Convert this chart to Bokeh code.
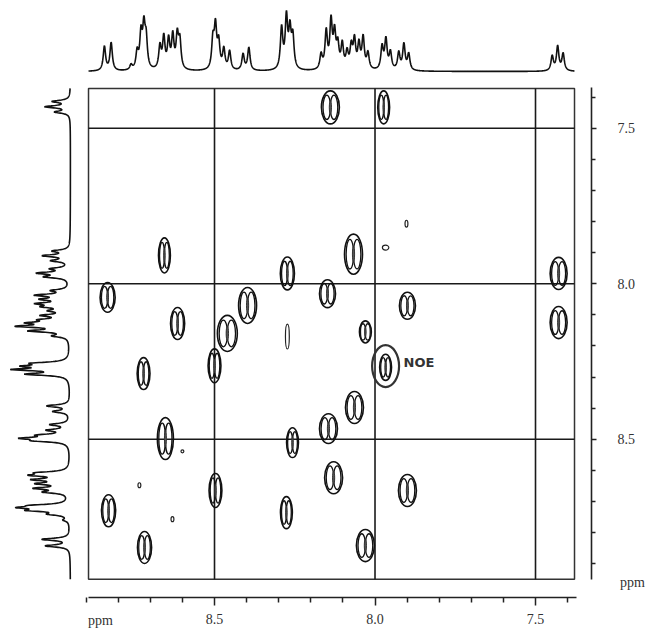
import numpy as np
from bokeh.plotting import figure
from bokeh.models import Range1d, LinearAxis, FixedTicker, Label, PrintfTickFormatter
from bokeh.embed import file_html
from bokeh.resources import INLINE

# ---------------- data (ppm) ----------------
# 1D 1H spectrum: peak positions (ppm) and relative intensities
peak_ppm = [8.843, 8.822, 8.760, 8.741, 8.729, 8.720, 8.713, 8.670, 8.658, 8.643,
            8.630, 8.616, 8.608, 8.505, 8.497, 8.487, 8.471, 8.453, 8.411, 8.393,
            8.291, 8.276, 8.265, 8.256, 8.168, 8.152, 8.137, 8.126, 8.116, 8.102,
            8.087, 8.074, 8.064, 8.050, 8.037, 8.022, 7.978, 7.966, 7.952, 7.926,
            7.910, 7.895, 7.448, 7.431, 7.414]
peak_int = [0.48, 0.55, 0.10, 0.34, 0.67, 0.78, 0.56, 0.45, 0.62, 0.56,
            0.64, 0.64, 0.54, 0.56, 0.81, 0.51, 0.40, 0.37, 0.32, 0.45,
            0.81, 1.00, 0.73, 0.62, 0.29, 0.73, 0.92, 0.67, 0.45, 0.48,
            0.32, 0.43, 0.56, 0.48, 0.62, 0.32, 0.45, 0.59, 0.34, 0.34,
            0.51, 0.32, 0.29, 0.48, 0.34]
line_hwhm = 0.0045

# spectral window limits (F2 horizontal, F1 vertical)
f2_limits = [8.8925, 7.3785]
f1_limits = [7.372, 8.950]

# axis ticks
major_ticks = [8.5, 8.0, 7.5]
minor_ticks = [8.9, 8.8, 8.7, 8.6, 8.4, 8.3, 8.2, 8.1, 7.9, 7.8, 7.7, 7.6, 7.4]
unit_label = "ppm"

# cross peaks: F2 (x), F1 (y), extent in ppm
cross_f2 = [8.139, 7.973, 8.656, 8.067, 8.273, 8.833, 8.148, 8.397, 8.615, 8.460,
            8.030, 7.899, 7.428, 7.428, 7.967, 8.721, 8.500, 8.064, 8.145, 8.257,
            8.653, 8.129, 8.497, 7.899, 8.830, 8.276, 8.718, 8.030]
cross_f1 = [7.433, 7.433, 7.909, 7.905, 7.967, 8.044, 8.032, 8.070, 8.128, 8.160,
            8.155, 8.071, 7.967, 8.125, 8.269, 8.289, 8.264, 8.398, 8.466, 8.511,
            8.498, 8.624, 8.665, 8.665, 8.730, 8.736, 8.848, 8.842]
cross_w = [0.056, 0.037, 0.037, 0.056, 0.044, 0.047, 0.050, 0.056, 0.044, 0.062,
           0.037, 0.050, 0.053, 0.053, 0.037, 0.040, 0.040, 0.056, 0.056, 0.037,
           0.050, 0.056, 0.040, 0.056, 0.044, 0.037, 0.044, 0.056]
cross_h = [0.106, 0.106, 0.113, 0.129, 0.106, 0.096, 0.090, 0.116, 0.103, 0.116,
           0.071, 0.087, 0.103, 0.103, 0.084, 0.103, 0.109, 0.103, 0.096, 0.096,
           0.135, 0.103, 0.109, 0.103, 0.103, 0.103, 0.103, 0.103]

# weak noise features
noise_f2 = [7.902, 7.967, 8.600, 8.734, 8.631, 8.273]
noise_f1 = [7.807, 7.884, 8.539, 8.648, 8.757, 8.170]
noise_w = [0.009, 0.020, 0.009, 0.009, 0.009, 0.012]
noise_h = [0.022, 0.016, 0.010, 0.016, 0.016, 0.080]

# annotated NOE peak
noe_f2, noe_f1 = 7.967, 8.269
noe_label = "NOE"

# ---------------- figure ----------------
p = figure(width=648, height=630,
           x_range=Range1d(9.1667, 7.1480), y_range=Range1d(9.1151, 7.0894),
           output_backend="svg", toolbar_location=None,
           x_axis_location=None, y_axis_location=None,
           min_border_left=0, min_border_top=0,
           min_border_right=0, min_border_bottom=0)
p.outline_line_color = None
p.grid.visible = False
p.background_fill_color = "white"
p.border_fill_color = "white"

p.extra_y_ranges = {"top": Range1d(start=-9.163, end=1.164)}
p.extra_x_ranges = {"side": Range1d(start=1.1666, end=-9.6334)}

pk = np.array(peak_ppm)
amp = np.array(peak_int)

def spectrum(grid):
    d = (grid[:, None] - pk[None, :]) / line_hwhm
    s = (amp[None, :] / (1.0 + d * d)).sum(axis=1)
    return s

full = np.linspace(f1_limits[1], f2_limits[1], 4000)
norm = spectrum(full).max()

# top projection
gx = np.linspace(f2_limits[0], f2_limits[1], 2500)
p.line(gx, spectrum(gx) / norm, y_range_name="top", line_color="#111111", line_width=1.6)

# left projection
gy = np.linspace(f1_limits[0], f1_limits[1], 2500)
p.line(spectrum(gy) / norm, gy, x_range_name="side", line_color="#111111", line_width=1.6)

# frame box
p.quad(left=[f2_limits[0]], right=[f2_limits[1]], top=[f1_limits[0]], bottom=[f1_limits[1]],
       fill_color=None, line_color="#333333", line_width=1.5)

# reference lines at the major ppm values
p.segment(x0=major_ticks, x1=major_ticks, y0=[f1_limits[0]] * 3, y1=[f1_limits[1]] * 3,
          line_color="#1a1a1a", line_width=1.6)
p.segment(x0=[f2_limits[0]] * 3, x1=[f2_limits[1]] * 3, y0=major_ticks, y1=major_ticks,
          line_color="#1a1a1a", line_width=1.6)

# cross peaks as contour levels: outer envelope + two inner lobes + core
cw = np.array(cross_w)
ch = np.array(cross_h)
cx = np.array(cross_f2)
p.ellipse(x=cross_f2, y=cross_f1, width=list(cw), height=list(ch),
          fill_color=None, line_color="#111111", line_width=1.6)
for side in (-1, 1):
    p.ellipse(x=list(cx + side * 0.2 * cw), y=cross_f1, width=list(cw * 0.42),
              height=list(ch * 0.74), fill_color=None, line_color="#111111", line_width=1.3)
p.ellipse(x=cross_f2, y=cross_f1, width=list(cw * 0.12), height=list(ch * 0.4),
          fill_color="#555555", line_color="#333333", line_width=1.0)

p.ellipse(x=noise_f2, y=noise_f1, width=noise_w, height=noise_h,
          fill_color=None, line_color="#222222", line_width=1.2)

# NOE annotation
p.ellipse(x=[noe_f2], y=[noe_f1 - 0.004], width=[0.084], height=[0.135],
          fill_color=None, line_color="#333333", line_width=2.2)
p.add_layout(Label(x=noe_f2 - 0.056, y=noe_f1 - 0.016, text=noe_label,
                   text_font="DejaVu Sans", text_font_size="13px", text_font_style="bold",
                   text_color="#333333", text_align="left", text_baseline="middle"))

# axes (drawn at fixed positions, offset from the box)
fmt = PrintfTickFormatter(format="%.1f")

xaxis = LinearAxis(ticker=FixedTicker(ticks=major_ticks, minor_ticks=minor_ticks),
                   formatter=fmt, bounds=(7.372, 8.8925), fixed_location=9.009)
yaxis = LinearAxis(ticker=FixedTicker(ticks=major_ticks, minor_ticks=minor_ticks),
                   formatter=fmt, bounds=(7.369, 8.952), fixed_location=7.3255)
for ax in (xaxis, yaxis):
    ax.axis_line_color = "#222222"
    ax.axis_line_width = 1.6
    ax.major_tick_line_color = "#222222"
    ax.minor_tick_line_color = "#222222"
    ax.major_tick_line_width = 1.5
    ax.minor_tick_line_width = 1.5
    ax.major_tick_in = 0
    ax.minor_tick_in = 0
    ax.major_label_text_font = "Liberation Serif"
    ax.major_label_text_font_size = "14px"
    ax.major_label_text_color = "#333333"
xaxis.major_tick_out = 8
xaxis.minor_tick_out = 5
xaxis.major_label_standoff = 8
yaxis.major_tick_out = 5
yaxis.minor_tick_out = 4
yaxis.major_label_standoff = 21
yaxis.major_label_orientation = "horizontal"
p.add_layout(xaxis, "below")
p.add_layout(yaxis, "right")

# unit labels
p.add_layout(Label(x=8.855, y=9.083, text=unit_label, text_font="Liberation Serif",
                   text_font_size="14px", text_color="#333333",
                   text_align="center", text_baseline="middle"))
p.add_layout(Label(x=7.198, y=8.961, text=unit_label, text_font="Liberation Serif",
                   text_font_size="14px", text_color="#333333",
                   text_align="center", text_baseline="middle"))

open("out.html", "w").write(file_html(p, INLINE))
